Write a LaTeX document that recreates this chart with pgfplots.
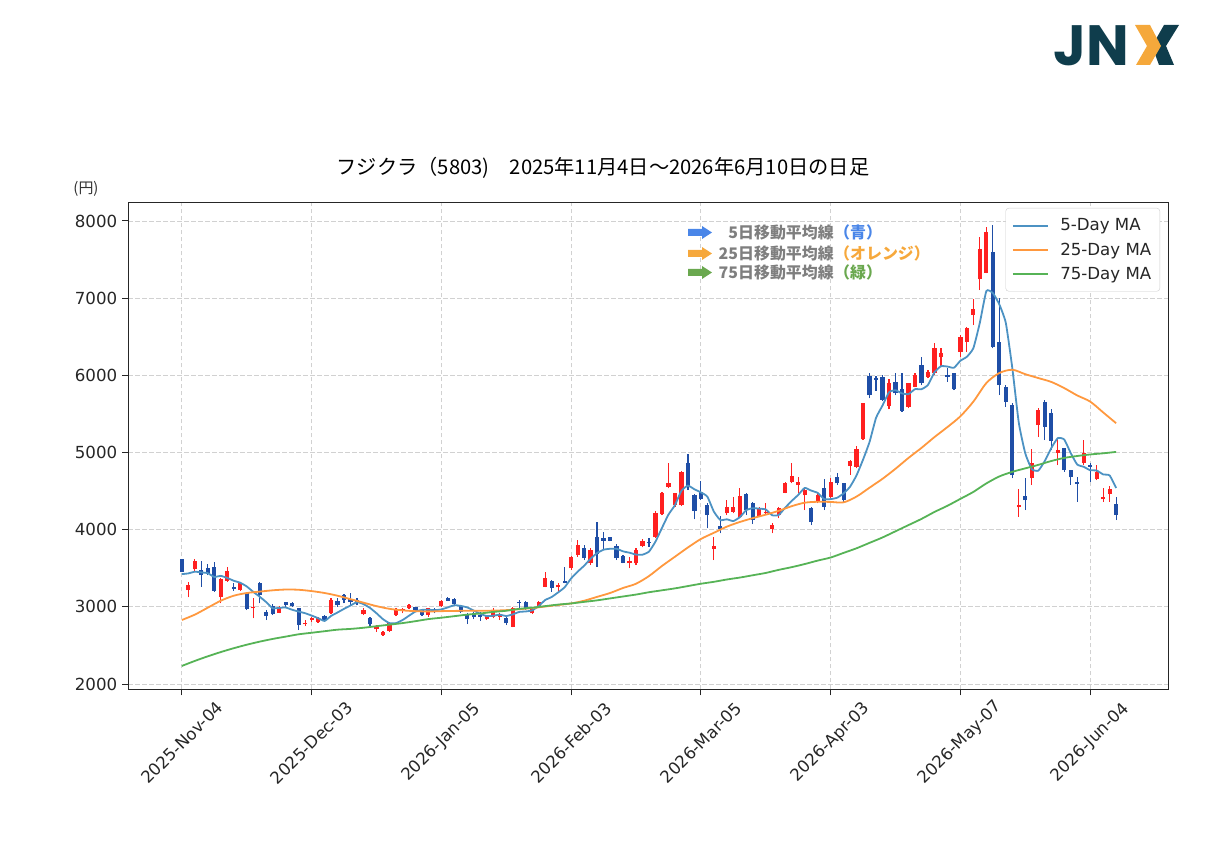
\documentclass[border=0pt]{standalone}
\usepackage{fontspec}
\usepackage{pgfplots}
\usepackage{pgfplotstable}
\pgfplotsset{compat=1.18}
\setmainfont{DejaVu Sans}
\newfontfamily\jp{Noto Sans CJK JP}
\newfontfamily\logofont{Poppins}
\definecolor{upred}{HTML}{FF2020}
\definecolor{dnblue}{HTML}{1F4EA6}
\definecolor{maA}{HTML}{4C92C3}
\definecolor{maB}{HTML}{FF983E}
\definecolor{maC}{HTML}{56B356}
\definecolor{arrblue}{HTML}{4A86E8}
\definecolor{arrorange}{HTML}{F6A83C}
\definecolor{arrgreen}{HTML}{6AA84F}
\definecolor{annogray}{HTML}{7F7F7F}
\definecolor{logoteal}{HTML}{0F3D4C}
\definecolor{logoorange}{HTML}{F5A83B}

\pgfplotstableread{
i o h l c
1 3218 3326 3123 3283
2 3486 3615 3456 3598
6 3132 3369 3045 3356
7 3339 3520 3326 3464
9 3218 3326 3210 3304
11 2980 3110 2851 3002
15 2924 3015 2916 3002
19 2773 2829 2752 2795
20 2829 2873 2808 2851
21 2808 2873 2795 2851
23 2916 3110 2905 3088
28 2903 2980 2894 2959
30 2708 2765 2678 2743
31 2635 2690 2625 2678
32 2687 2808 2678 2786
33 2894 2990 2880 2967
34 2950 2980 2916 2972
35 2980 3040 2970 3023
38 2894 2990 2870 2980
40 3011 3090 3000 3080
47 2838 2890 2830 2885
48 2873 2980 2850 2959
49 2873 2924 2830 2907
51 2743 2993 2735 2980
54 2916 3002 2907 2980
55 3002 3080 2990 3067
56 3261 3455 3252 3369
58 3253 3313 3209 3283
60 3499 3659 3477 3641
61 3671 3866 3650 3801
63 3564 3758 3542 3736
69 3564 3650 3499 3594
70 3564 3758 3542 3736
71 3788 3874 3771 3857
73 3900 4242 3887 4220
74 4203 4492 4190 4479
75 4557 4859 4535 4600
76 4319 4479 4298 4470
77 4319 4764 4306 4751
82 3750 3909 3607 3790
84 4211 4384 4190 4289
85 4233 4427 4211 4289
86 4160 4535 4146 4436
89 4177 4289 4160 4263
90 4211 4349 4190 4233
91 4004 4082 3952 4060
92 4190 4298 4146 4276
93 4479 4622 4470 4600
94 4613 4859 4600 4695
95 4578 4686 4470 4622
96 4444 4535 4254 4514
98 4362 4470 4341 4449
100 4427 4665 4406 4622
103 4825 4900 4709 4885
104 4817 5090 4795 5041
105 5171 5646 5162 5637
109 5600 5950 5560 5900
112 5594 5905 5572 5896
113 5853 6026 5844 6004
115 5982 6069 5961 6047
116 6026 6415 6004 6350
117 6233 6350 6112 6294
120 6307 6522 6242 6501
121 6436 6622 6307 6609
122 6782 6985 6652 6855
123 7244 7797 7105 7632
124 7330 7926 7322 7861
129 4289 4523 4168 4319
131 4665 5040 4579 4859
132 5356 5580 5200 5555
135 4998 5170 4838 5032
139 4859 5162 4838 4998
141 4652 4838 4643 4751
142 4393 4535 4363 4427
143 4458 4566 4363 4523
}\up

\pgfplotstableread{
i o h l c
0 3620 3625 3450 3456
3 3477 3598 3261 3413
4 3499 3555 3413 3434
5 3520 3577 3197 3210
8 3261 3313 3210 3231
10 3175 3188 2959 2972
12 3313 3326 3045 3153
13 2937 2959 2829 2881
14 3011 3032 2894 2903
16 3060 3067 3002 3020
17 3050 3065 3000 3010
18 2980 2985 2700 2765
22 2881 2894 2808 2829
24 3080 3110 3000 3020
25 3153 3166 3045 3088
26 3097 3183 3023 3067
27 3088 3110 3020 3045
29 2860 2873 2743 2778
36 2993 3002 2937 2950
37 2959 2972 2880 2894
39 2967 2990 2916 2937
41 3118 3127 3075 3080
42 3097 3110 3015 3032
43 3011 3023 2916 2937
44 2894 2916 2777 2838
45 2916 2937 2838 2873
46 2894 2937 2820 2873
50 2860 2873 2765 2786
52 3067 3088 2980 3045
53 3060 3080 2959 2985
57 3339 3348 3196 3240
59 3335 3520 3304 3313
62 3767 3801 3607 3628
64 3900 4103 3520 3685
65 3887 3974 3736 3857
66 3905 3910 3850 3860
67 3788 3810 3607 3628
68 3659 3672 3564 3572
72 3844 3887 3780 3823
78 4859 4980 4514 4557
79 4450 4460 4134 4240
80 4492 4630 4384 4400
81 4315 4341 4017 4190
83 4047 4177 3952 4004
87 4462 4470 4190 4254
88 4349 4362 4073 4125
97 4276 4289 4060 4103
99 4535 4652 4254 4298
101 4678 4738 4578 4600
102 4600 4608 4349 4384
106 5990 6030 5700 5745
107 5970 5990 5800 5940
108 5980 6000 5670 5685
110 5918 6026 5745 5767
111 5818 6026 5529 5538
114 6134 6233 5874 5896
118 6004 6091 5918 5982
119 6026 6035 5810 5818
125 7600 7948 6350 6371
126 6436 6997 5745 5874
127 5853 5874 5594 5659
128 5615 5637 4665 4708
130 4436 4665 4255 4384
133 5659 5680 5162 5335
134 5508 5560 5032 5150
136 5054 5062 4751 4773
137 4773 4780 4579 4678
138 4622 4687 4363 4592
140 4838 4859 4622 4816
144 4332 4427 4125 4190
}\dn

\pgfplotstableread{
i v
0 3425
1 3434
2 3456
3 3447
4 3437
5 3388
6 3402
7 3375
8 3339
9 3313
10 3265
11 3195
12 3132
13 3062
14 2982
15 2988
16 2992
17 2963
18 2940
19 2918
20 2888
21 2854
22 2818
23 2883
24 2928
25 2975
26 3018
27 3062
28 3036
29 2987
30 2918
31 2841
32 2789
33 2790
34 2829
35 2885
36 2940
37 2961
38 2964
39 2957
40 2968
41 2994
42 3022
43 3013
44 2993
45 2952
46 2911
47 2881
48 2886
49 2899
50 2882
51 2903
52 2935
53 2941
54 2955
55 3011
56 3089
57 3128
58 3188
59 3254
60 3369
61 3456
62 3533
63 3624
64 3698
65 3741
66 3753
67 3753
68 3720
69 3702
70 3678
71 3677
72 3716
73 3846
74 4023
75 4196
76 4318
77 4504
78 4571
79 4524
80 4484
81 4428
82 4235
83 4125
84 4135
85 4112
86 4162
87 4254
88 4279
89 4273
90 4262
91 4187
92 4191
93 4286
94 4373
95 4451
96 4541
97 4507
98 4477
99 4397
100 4397
101 4414
102 4471
103 4558
104 4706
105 4909
106 5138
107 5450
108 5610
109 5781
110 5807
111 5766
112 5757
113 5821
114 5820
115 5876
116 6039
117 6118
118 6114
119 6098
120 6189
121 6241
122 6353
123 6683
124 7092
125 7066
126 6919
127 6679
128 6095
129 5386
130 4989
131 4786
132 4765
133 4890
134 5057
135 5186
136 5169
137 4994
138 4845
139 4815
140 4771
141 4767
142 4717
143 4703
144 4541
}\maf

\pgfplotstableread{
i v
0 2830
2 2900
4 2990
6 3080
8 3145
10 3180
12 3198
14 3215
16 3225
18 3222
20 3205
22 3180
24 3145
26 3100
28 3055
30 3010
32 2975
34 2955
36 2945
38 2940
40 2945
42 2948
44 2950
46 2950
48 2952
50 2958
52 2970
54 2985
56 3005
58 3025
60 3045
62 3080
64 3130
66 3180
68 3245
70 3300
72 3400
74 3530
76 3650
78 3770
80 3880
82 3960
84 4040
86 4100
88 4150
90 4195
92 4245
94 4305
96 4350
98 4362
100 4360
102 4355
104 4430
106 4545
108 4660
110 4790
112 4930
114 5060
116 5200
118 5330
120 5470
122 5660
124 5900
126 6030
128 6072
130 6015
132 5965
134 5915
136 5835
138 5740
140 5660
142 5520
144 5380
}\mam

\pgfplotstableread{
i v
0 2235
2 2300
4 2360
6 2415
8 2465
10 2510
12 2550
14 2585
16 2615
18 2645
20 2665
22 2685
24 2705
26 2715
28 2730
30 2750
32 2770
34 2790
36 2815
38 2842
40 2860
42 2880
44 2900
46 2915
48 2935
50 2950
52 2975
54 2990
56 3010
58 3030
60 3045
62 3065
64 3085
66 3110
68 3135
70 3160
72 3190
74 3215
76 3240
78 3270
80 3300
82 3325
84 3355
86 3380
88 3410
90 3440
92 3480
94 3515
96 3555
98 3600
100 3640
102 3700
104 3760
106 3830
108 3900
110 3980
112 4060
114 4140
116 4230
118 4310
120 4400
122 4490
124 4600
126 4690
128 4750
130 4795
132 4840
134 4890
136 4930
138 4955
140 4975
142 4990
144 5008
}\mal

\begin{document}
\begin{tikzpicture}[x=1bp,y=1bp]
\begin{axis}[
  at={(128bp,160.5bp)}, anchor=south west,
  scale only axis, width=1040bp, height=486.5bp,
  xmin=-8.3, xmax=152, ymin=1930, ymax=8233,
  axis line style={black!85, line width=1bp},
  tick align=outside, tick pos=left,
  major tick length=5.8bp,
  tick style={black!85, line width=1bp},
  xtick={0,20,...,140},
  xticklabels={2025-Nov-04,2025-Dec-03,2026-Jan-05,2026-Feb-03,2026-Mar-05,2026-Apr-03,2026-May-07,2026-Jun-04},
  ytick={2000,3000,...,8000},
  scaled y ticks=false,
  /pgf/number format/assume math mode=true,
  /pgf/number format/1000 sep={},
  ticklabel style={font=\fontsize{16.7}{20}\selectfont, text=black!85},
  xticklabel style={rotate=45, anchor=center, xshift=-33.5bp, yshift=-33.5bp},
  yticklabel style={xshift=-1.5bp},
  grid=major,
  major grid style={dash pattern=on 4.5bp off 2.5bp, black!18, line width=0.9bp},
  legend style={at={(0.9923,0.9897)}, anchor=north east, draw=black!20,
    fill=white, rounded corners=3bp,
    font=\fontsize{16.7}{20}\selectfont, text=black!85,
    row sep=5.5bp, inner xsep=6bp, inner ysep=8bp,
    nodes={inner sep=2.5bp},
    /tikz/every odd column/.append style={column sep=9bp}},
  legend cell align=left,
  legend image code/.code={\draw[#1, line cap=butt] (0bp,0bp) -- (35bp,0bp);},
]
% wicks
\addplot[draw=none, mark=none, forget plot,
  error bars/.cd, y dir=plus, y explicit, error mark=none,
  error bar style={line width=1.2bp, draw=upred}]
  table[x=i, y=l, y error plus expr=\thisrow{h}-\thisrow{l}] {\up};
\addplot[draw=none, mark=none, forget plot,
  error bars/.cd, y dir=plus, y explicit, error mark=none,
  error bar style={line width=1.2bp, draw=dnblue}]
  table[x=i, y=l, y error plus expr=\thisrow{h}-\thisrow{l}] {\dn};
% bodies
\addplot[draw=none, mark=none, forget plot,
  error bars/.cd, y dir=plus, y explicit, error mark=none,
  error bar style={line width=4.2bp, draw=upred}]
  table[x=i, y=o, y error plus expr=\thisrow{c}-\thisrow{o}] {\up};
\addplot[draw=none, mark=none, forget plot,
  error bars/.cd, y dir=plus, y explicit, error mark=none,
  error bar style={line width=4.2bp, draw=dnblue}]
  table[x=i, y=c, y error plus expr=\thisrow{o}-\thisrow{c}] {\dn};
% moving averages
\addplot[maA, line width=1.8bp, smooth, tension=0.3, mark=none, forget plot] table[x=i, y=v] {\maf};
\addplot[maB, line width=1.8bp, smooth, mark=none, forget plot] table[x=i, y=v] {\mam};
\addplot[maC, line width=1.8bp, smooth, mark=none, forget plot] table[x=i, y=v] {\mal};
\addlegendimage{maA, line width=2bp}
\addlegendentry{5-Day MA}
\addlegendimage{maB, line width=2bp}
\addlegendentry{25-Day MA}
\addlegendimage{maC, line width=2bp}
\addlegendentry{75-Day MA}
\end{axis}

\pgfresetboundingbox
\useasboundingbox (0,0) rectangle (1207,850);

% logo
\node[anchor=base west, inner sep=0pt, text=logoteal] at (1053,784)
  {\logofont\bfseries\fontsize{57}{57}\selectfont JN};
\fill[logoteal] (1164,825) -- (1179,825) -- (1166,804) -- (1174,785) -- (1159,785) -- (1152,804) -- cycle;
\fill[logoorange] (1135,825) -- (1150,825) -- (1161,804) -- (1150,785) -- (1136,785) -- (1147,804) -- cycle;

% title and unit
\node[anchor=center, inner sep=0pt] at (603,682)
  {\jp\fontsize{20.3}{24}\selectfont フジクラ（5803)　2025年11月4日～2026年6月10日の日足};
\node[anchor=center, inner sep=0pt, text=black!80] at (86,661)
  {\jp\fontsize{15}{18}\selectfont (円)};

% annotation arrows
\fill[arrblue] (688,621) -- (702,621) -- (702,624) -- (712,617.5) -- (702,611) -- (702,614) -- (688,614) -- cycle;
\fill[arrorange] (688,600) -- (702,600) -- (702,603) -- (712,596.5) -- (702,590) -- (702,593) -- (688,593) -- cycle;
\fill[arrgreen] (688,581) -- (702,581) -- (702,584) -- (712,577.5) -- (702,571) -- (702,574) -- (688,574) -- cycle;
\node[anchor=east, inner sep=0pt, text=annogray] at (834,617.5) {\jp\bfseries\fontsize{16}{18}\selectfont 5日移動平均線};
\node[anchor=west, inner sep=0pt, text=arrblue] at (834,617.5) {\jp\bfseries\fontsize{16}{18}\selectfont （青）};
\node[anchor=east, inner sep=0pt, text=annogray] at (834,596.5) {\jp\bfseries\fontsize{16}{18}\selectfont 25日移動平均線};
\node[anchor=west, inner sep=0pt, text=arrorange] at (834,596.5) {\jp\bfseries\fontsize{16}{18}\selectfont （オレンジ）};
\node[anchor=east, inner sep=0pt, text=annogray] at (834,577.5) {\jp\bfseries\fontsize{16}{18}\selectfont 75日移動平均線};
\node[anchor=west, inner sep=0pt, text=arrgreen] at (834,577.5) {\jp\bfseries\fontsize{16}{18}\selectfont （緑）};
\end{tikzpicture}
\end{document}
